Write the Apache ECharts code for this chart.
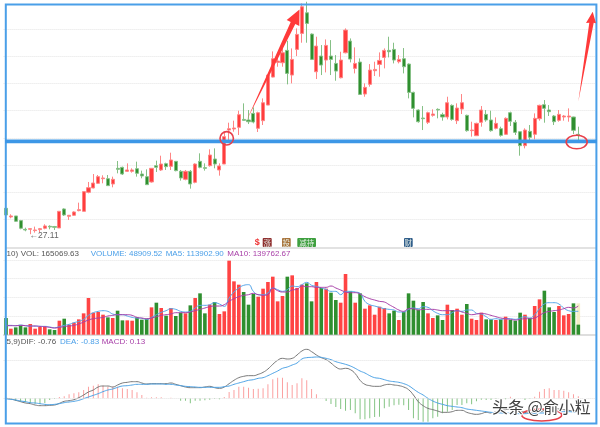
<!DOCTYPE html>
<html>
<head>
<meta charset="utf-8">
<style>
html,body{margin:0;padding:0;background:#fff;}
#chart{width:600px;height:427px;}
</style>
</head>
<body>
<div id="chart"></div>
<script src="https://cdn.jsdelivr.net/npm/echarts@6/dist/echarts.min.js"></script>
<script>
// k线
const opens = [32.89,30.96,31.18,30.14,28.20,28.20,27.91,28.13,28.43,28.87,
28.80,28.50,32.74,31.10,31.33,32.37,32.22,36.46,37.43,38.47,
39.51,39.51,38.32,41.82,42.04,41.15,41.15,41.74,40.55,39.96,
38.77,42.41,41.45,42.86,42.26,43.38,41.15,39.36,41.15,38.69,
43.38,41.97,42.41,43.90,41.45,42.78,50.37,50.60,50.97,52.75,
52.61,54.09,50.75,52.46,55.95,62.20,65.48,65.40,68.16,62.65,
68.38,71.95,76.56,71.80,63.39,66.89,66.00,66.89,65.25,62.05,
67.63,70.24,64.14,65.55,58.41,60.57,63.62,65.03,66.59,68.16,
68.38,65.63,66.30,65.10,58.78,54.84,53.05,52.09,53.65,54.99,
53.80,53.28,55.88,52.46,55.06,53.65,50.23,49.11,52.09,53.87,
52.61,50.75,50.67,49.41,54.24,52.09,50.00,46.88,50.08,49.41,
52.90,56.03,54.84,53.50,52.53,53.28,53.28,53.28,49.41];
const closes = [31.40,31.18,29.99,28.43,28.05,28.35,28.05,28.35,28.95,28.72,
28.65,32.22,31.40,31.33,32.07,32.59,36.61,37.50,38.54,39.96,
39.66,37.95,39.36,41.59,40.55,41.45,41.45,40.70,40.11,38.17,
41.82,42.04,42.78,42.19,43.68,41.30,39.66,41.15,38.32,42.78,
42.04,41.82,44.79,42.78,42.34,48.89,50.67,50.82,53.80,52.53,
52.23,52.16,54.24,56.47,62.65,66.30,65.77,67.63,63.02,66.15,
71.73,77.90,74.18,66.15,69.12,64.88,69.27,66.15,63.54,66.00,
72.69,66.22,65.25,58.33,59.90,63.77,63.91,65.92,68.16,67.86,
66.00,66.15,64.51,58.78,55.21,52.23,52.90,54.24,53.95,54.84,
53.28,56.47,52.75,55.28,56.47,50.23,50.37,51.86,54.84,52.61,
50.23,51.86,49.18,52.98,52.31,49.85,46.88,50.37,48.74,52.98,
55.88,55.21,54.47,52.23,53.87,53.50,53.50,50.30,49.26];
const lows = [31.40,30.66,29.84,28.20,27.76,27.11,27.46,27.46,28.20,28.20,
28.05,28.50,31.18,30.29,31.18,32.22,32.22,36.24,37.35,38.32,
38.47,37.87,37.58,40.70,40.33,41.00,40.85,39.96,39.59,38.10,
38.62,41.00,41.22,41.45,41.45,41.15,39.07,39.14,37.28,38.47,
41.82,41.30,42.19,41.82,40.18,42.78,48.14,50.00,49.26,52.46,
51.71,51.86,49.93,51.49,55.95,62.13,64.51,64.51,60.57,60.79,
66.89,69.87,69.87,66.00,61.76,62.65,63.24,62.65,61.38,61.91,
67.49,65.48,63.02,58.19,57.81,60.05,62.43,62.28,64.14,66.59,
65.25,65.25,63.02,57.44,53.20,52.01,50.37,51.71,53.35,52.98,
52.46,52.75,52.46,51.71,53.95,50.00,48.89,49.03,51.12,52.23,
50.00,50.52,48.89,49.26,51.27,49.26,44.64,46.28,48.14,48.29,
52.46,52.01,53.50,51.49,52.23,52.46,52.23,49.48,48.14];
const highs = [32.89,31.55,31.18,30.29,28.57,28.43,28.80,28.50,29.32,29.10,
28.95,32.22,32.89,31.40,32.22,34.15,36.61,38.77,40.55,40.33,
40.26,40.33,39.96,43.45,42.19,42.93,41.82,43.31,41.30,41.59,
41.82,43.53,44.64,43.08,45.31,43.38,41.45,41.45,41.45,42.93,
45.17,42.93,46.06,46.28,42.93,50.00,52.01,52.46,54.69,56.33,
54.84,55.43,54.47,57.44,62.65,67.93,66.74,70.09,70.31,68.60,
73.07,78.65,79.02,71.95,71.21,69.35,70.61,70.46,67.11,67.86,
73.07,70.83,68.83,66.37,60.79,65.10,65.63,67.71,68.60,71.21,
69.87,67.11,68.68,65.25,58.93,54.99,55.73,54.47,54.99,55.21,
54.24,57.81,56.10,56.33,58.41,53.80,52.23,52.01,55.73,54.84,
54.69,53.20,51.12,53.20,54.47,52.61,50.00,50.75,51.49,54.09,
56.03,57.07,55.95,53.72,54.84,53.72,55.21,53.35,51.12];

// 成交量
const vols = [81250,29250,35750,45500,35750,52000,29250,37375,39000,26000,
22750,68250,78000,48750,58500,74750,104000,178750,107250,110500,
97500,84500,81250,117000,69875,69875,68250,84500,73125,78000,
133250,156000,130000,92625,130000,91000,107250,104000,143000,178750,
201500,104000,146250,159250,100750,113750,360750,260000,243750,208000,
146250,198250,185250,224250,256750,282750,162500,188500,282750,289250,
227500,243750,250250,162500,256750,227500,224250,204750,169000,156000,
295750,211250,156000,201500,126750,143000,97500,136500,130000,104000,
117000,71500,110500,201500,165750,121875,159250,104000,81250,94250,
71500,146250,120250,126750,97500,149500,78000,71500,107250,74750,
74750,71500,74750,87750,71500,68250,107250,97500,81250,139750,
172250,214500,133250,110500,139750,94250,100750,152750,48910];
const ma5 = [45500,45500,43875,47125,43875,42250,42250,40625,40625,37375,
34125,39000,45500,50375,58500,65000,74750,94250,107250,113750,
117000,113750,100750,97500,97500,91000,84500,81250,79625,74750,
84500,97500,108875,117000,126750,123500,113750,110500,113750,130000,
143000,143000,146250,156000,149500,138125,178750,208000,227500,240500,
243750,211250,195000,195000,203125,227500,219375,211250,219375,237250,
234000,243750,255125,240500,235625,227500,221000,211250,211250,195000,
211250,211250,208000,201500,162500,146250,139750,133250,126750,123500,
120250,110500,110500,123500,130000,126750,136500,133250,117000,104000,
97500,97500,107250,117000,113750,120250,120250,104000,100750,87750,
74750,78000,74750,78000,78000,74750,81250,87750,81250,97500,
126750,149500,156000,156000,149500,130000,117000,113750,113903];
const ma10 = [43875,43875,43875,45500,43875,42250,42250,40625,39000,35750,
32500,35750,39000,42250,45500,52000,61750,71500,78000,81250,
84500,91000,94250,97500,97500,97500,94250,84500,81250,78000,
81250,87750,94250,97500,100750,107250,107250,107250,110500,117000,
123500,130000,136500,139750,139750,146250,162500,175500,185250,191750,
195000,201500,195000,191750,195000,227500,214500,208000,208000,217750,
221000,237250,234000,234000,230750,230750,230750,237250,227500,217750,
208000,204750,204750,198250,185250,175500,169000,162500,159250,146250,
133250,120250,113750,126750,126750,120250,123500,123500,123500,120250,
117000,117000,117000,117000,110500,104000,97500,100750,104000,100750,
94250,87750,81250,78000,74750,71500,74750,78000,78000,81250,
94250,107250,113750,117000,120250,126750,133250,130000,139763];
// 最后一根的预估量(浅色)
const estVol = new Array(118).fill(null).concat([152750]);

// MACD
const dif = [0.00,-0.04,-0.12,-0.20,-0.28,-0.32,-0.40,-0.44,-0.44,-0.42,
-0.40,-0.30,-0.18,-0.14,-0.08,0.04,0.20,0.38,0.50,0.68,
0.74,0.74,0.68,0.80,0.92,0.96,1.00,1.00,0.92,0.86,
0.88,0.88,0.88,0.88,0.92,0.84,0.76,0.68,0.64,0.64,
0.64,0.68,0.72,0.64,0.60,0.68,0.88,1.08,1.24,1.32,
1.36,1.36,1.44,1.56,1.76,2.04,2.28,2.40,2.36,2.40,
2.60,2.84,2.94,2.80,2.60,2.44,2.32,2.12,1.88,1.76,
1.80,1.72,1.48,1.08,0.84,0.76,0.72,0.72,0.80,0.84,
0.80,0.76,0.68,0.52,0.20,-0.20,-0.44,-0.60,-0.68,-0.76,
-0.84,-0.84,-0.80,-0.72,-0.72,-0.84,-0.92,-0.96,-0.92,-0.84,
-0.88,-0.80,-0.72,-0.68,-0.64,-0.68,-0.76,-0.84,-0.88,-0.88,
-0.84,-0.72,-0.64,-0.60,-0.64,-0.68,-0.72,-0.76,-0.76];
const dea = [-0.04,-0.06,-0.10,-0.16,-0.20,-0.26,-0.28,-0.32,-0.36,-0.38,
-0.36,-0.32,-0.26,-0.22,-0.18,-0.12,-0.02,0.08,0.18,0.28,
0.40,0.50,0.56,0.66,0.74,0.76,0.80,0.84,0.84,0.84,
0.86,0.86,0.86,0.84,0.84,0.80,0.76,0.72,0.70,0.68,
0.66,0.66,0.66,0.66,0.66,0.70,0.74,0.84,0.92,1.00,
1.08,1.12,1.20,1.24,1.36,1.50,1.64,1.80,1.88,2.00,
2.12,2.36,2.44,2.46,2.48,2.46,2.40,2.32,2.20,2.12,
2.04,1.94,1.80,1.64,1.52,1.36,1.24,1.20,1.12,1.04,
1.00,0.96,0.88,0.76,0.56,0.36,0.20,0.00,-0.16,-0.28,
-0.36,-0.44,-0.48,-0.52,-0.56,-0.64,-0.68,-0.72,-0.76,-0.80,
-0.84,-0.86,-0.88,-0.88,-0.90,-0.92,-0.92,-0.92,-0.90,-0.90,
-0.88,-0.88,-0.84,-0.84,-0.80,-0.80,-0.80,-0.82,-0.83];
const macd = [0.04,-0.02,-0.16,-0.20,-0.24,-0.28,-0.32,-0.32,-0.28,-0.10,
-0.04,0.08,0.12,0.24,0.30,0.36,0.50,0.70,0.76,0.84,
0.76,0.70,0.70,0.70,0.60,0.56,0.50,0.36,0.20,0.04,
0.06,0.06,0.06,0,0.04,0,-0.14,-0.14,-0.30,-0.14,
-0.14,-0.12,-0.08,-0.04,-0.06,0.08,0.38,0.50,0.70,0.70,
0.64,0.56,0.58,0.60,0.84,1.14,1.24,1.24,0.96,0.80,
0.90,1.20,1.08,0.56,0.24,0,-0.16,-0.34,-0.52,-0.64,
-0.74,-0.70,-0.90,-1.26,-1.26,-1.20,-1.12,-1.10,-0.60,-0.50,
-0.42,-0.38,-0.42,-0.70,-1.20,-1.30,-1.40,-1.40,-1.20,-1.10,
-0.90,-0.80,-0.70,-0.40,-0.40,-0.30,-0.36,-0.18,-0.08,-0.10,
-0.10,-0.04,-0.10,-0.06,0.10,-0.04,0,-0.10,-0.02,0.10,
0.40,0.56,0.60,0.50,0.50,0.46,0.36,0.24,0.13];

// 右侧多留3格空白
const categories = [];
for (let i = 0; i < opens.length + 3; i++) categories.push(String(i + 1));

const RED = '#ff3d3d', GREEN = '#2f8f2f', BLUE = '#4a9fe8', DIF_COLOR = '#777777',
      DEA_COLOR = '#4da3e6', PURPLE = '#a83fa8';
const GRID_LEFT = 3.6, GRID_W = 591.7;

const candleData = opens.map((o, i) => [o, closes[i], lows[i], highs[i]]);

function xAxisOf(idx, lineShow) {
    return {
        type: 'category', gridIndex: idx, data: categories, boundaryGap: true,
        axisLabel: {show: false}, axisTick: {show: false},
        axisLine: {show: lineShow, lineStyle: {color: '#d4d4d4', width: 1.5}},
        splitLine: {show: false}
    };
}
const dotted = {show: true, showMinLine: false, showMaxLine: false,
    lineStyle: {color: '#e4e4e4', type: 'dotted', width: 1}};

function label(text, x, y, color) {
    return {type: 'text', z: 50, silent: true,
        style: {text: text, x: x, y: y, fill: color, font: '8px "Liberation Sans"', verticalAlign: 'middle'}};
}
function tag(text, x, w, color) {
    return [
        {type: 'rect', z: 50, silent: true, shape: {x: x, y: 238, width: w, height: 9, r: 1}, style: {fill: color}},
        {type: 'text', z: 51, silent: true, style: {text: text, x: x + w / 2, y: 242.7, fill: '#e8f0e8',
            font: '7.5px "Noto Sans CJK SC"', align: 'center', verticalAlign: 'middle'}}
    ];
}

// 标注：边框、粗线、箭头、圈、水印
const annotations = [
    {type: 'line', z: 40, silent: true, shape: {x1: 6, y1: 248, x2: 596, y2: 248}, style: {stroke: '#d8d8d8', lineWidth: 1.5}},
    {type: 'rect', z: 60, silent: true, shape: {x: 5.8, y: 4.4, width: 590.6, height: 419.2},
        style: {fill: 'none', stroke: BLUE, lineWidth: 2}},
    {type: 'rect', z: 60, silent: true, shape: {x: 5, y: 139.4, width: 592, height: 3.8}, style: {fill: '#3d97e6'}},
    {type: 'polygon', z: 61, silent: true,
        shape: {points: [[246.5, 120.7], [290.7, 21.9], [286.7, 20], [299.5, 9.5], [299.3, 26], [295.3, 24.1]]},
        style: {fill: '#ff3a3a'}},
    {type: 'polygon', z: 61, silent: true,
        shape: {points: [[578.3, 101.7], [589.3, 22.7], [586, 23], [592.7, 11.7], [596, 23.3], [593.7, 22.7]]},
        style: {fill: '#ff3a3a'}},
    {type: 'circle', z: 61, silent: true, shape: {cx: 226.7, cy: 138.3, r: 6.7},
        style: {fill: 'none', stroke: '#e8404a', lineWidth: 1.6}},
    {type: 'ellipse', z: 61, silent: true, shape: {cx: 576.7, cy: 142, rx: 10.5, ry: 6.8},
        style: {fill: 'none', stroke: '#e8404a', lineWidth: 1.6}},
    {type: 'ellipse', z: 61, silent: true, shape: {cx: 541.7, cy: 415, rx: 20, ry: 6},
        style: {fill: 'none', stroke: '#e8404a', lineWidth: 1.6}},
    {type: 'text', z: 62, silent: true,
        style: {text: '头条 @俞小粒', x: 492, y: 406.5, fill: '#404040', font: '16px "Noto Sans CJK SC"',
            verticalAlign: 'middle', stroke: '#ffffff', lineWidth: 2}},
    {type: 'text', z: 50, silent: true,
        style: {text: '←27.11', x: 29.5, y: 236, fill: '#666666', font: '8.5px "Liberation Sans"', verticalAlign: 'middle'}},
    label('10)', 6.5, 253.5, '#555555'),
    label('VOL: 165069.63', 20.7, 253.5, '#555555'),
    label('VOLUME: 48909.52', 90.7, 253.5, BLUE),
    label('MA5: 113902.90', 165.7, 253.5, BLUE),
    label('MA10: 139762.67', 227.3, 253.5, PURPLE),
    label('5,9)', 6.5, 341.3, '#555555'),
    label('DIF: -0.76', 20.7, 341.3, '#555555'),
    label('DEA: -0.83', 60, 341.3, BLUE),
    label('MACD: 0.13', 101.7, 341.3, PURPLE),
    {type: 'text', z: 50, silent: true,
        style: {text: '$', x: 254.8, y: 243, fill: '#ee3333', font: 'bold 9px "Liberation Sans"', verticalAlign: 'middle'}}
].concat(tag('涨', 262.7, 9, '#8e2d2d'), tag('投', 282, 8.7, '#a8733a'),
         tag('减持', 297.3, 18.7, '#3fa040'), tag('财', 404, 8.7, '#2f5d8a'));

const myChart = echarts.init(document.getElementById('chart'), null, {renderer: 'canvas'});
myChart.setOption({
    animation: false,
    backgroundColor: '#ffffff',
    grid: [
        {left: GRID_LEFT, width: GRID_W, top: 1.67, height: 245},
        {left: GRID_LEFT, width: GRID_W, top: 248.3, height: 86.4},
        {left: GRID_LEFT, width: GRID_W, top: 344, height: 79}
    ],
    xAxis: [xAxisOf(0, false), xAxisOf(1, true), xAxisOf(2, false)],
    yAxis: [
        {type: 'value', gridIndex: 0, min: 24.32, max: 79.04, interval: 6.08, axisLabel: {show: false},
            axisLine: {show: false}, axisTick: {show: false}, splitLine: dotted},
        {type: 'value', gridIndex: 1, min: 0, max: 421000, interval: 91000, axisLabel: {show: false},
            axisLine: {show: false}, axisTick: {show: false}, splitLine: dotted},
        {type: 'value', gridIndex: 2, min: -1.48, max: 3.26, axisLabel: {show: false},
            axisLine: {show: false}, axisTick: {show: false}, splitLine: {show: false}}
    ],
    series: [
        {type: 'candlestick', xAxisIndex: 0, yAxisIndex: 0, data: candleData, barWidth: 3.6,
            itemStyle: {color: RED, color0: GREEN, borderColor: '#ff8585', borderColor0: '#86c086', borderWidth: 1}},
        {type: 'bar', xAxisIndex: 1, yAxisIndex: 1, data: estVol, barWidth: 3.6, barGap: '-100%',
            itemStyle: {color: '#f3efc8'}},
        {type: 'bar', xAxisIndex: 1, yAxisIndex: 1, data: vols, barWidth: 3.6, barGap: '-100%',
            itemStyle: {color: (p) => closes[p.dataIndex] >= opens[p.dataIndex] ? '#ff4444' : GREEN}},
        {type: 'line', xAxisIndex: 1, yAxisIndex: 1, data: ma5, smooth: true, symbol: 'none',
            lineStyle: {color: '#55a6ea', width: 1}},
        {type: 'line', xAxisIndex: 1, yAxisIndex: 1, data: ma10, smooth: true, symbol: 'none',
            lineStyle: {color: PURPLE, width: 1}},
        {type: 'bar', xAxisIndex: 2, yAxisIndex: 2, data: macd, barWidth: 1,
            itemStyle: {color: (p) => p.value >= 0 ? '#fba0a0' : '#84c484'}},
        {type: 'line', xAxisIndex: 2, yAxisIndex: 2, data: dif, symbol: 'none', smooth: true,
            lineStyle: {color: DIF_COLOR, width: 1},
            markLine: {silent: true, symbol: 'none', label: {show: false},
                lineStyle: {color: '#e0e0e0', type: 'dotted', width: 1},
                data: [{yAxis: 0}, {yAxis: 2.28}]}},
        {type: 'line', xAxisIndex: 2, yAxisIndex: 2, data: dea, symbol: 'none', smooth: true,
            lineStyle: {color: DEA_COLOR, width: 1}}
    ],
    graphic: annotations
});
</script>
</body>
</html>
